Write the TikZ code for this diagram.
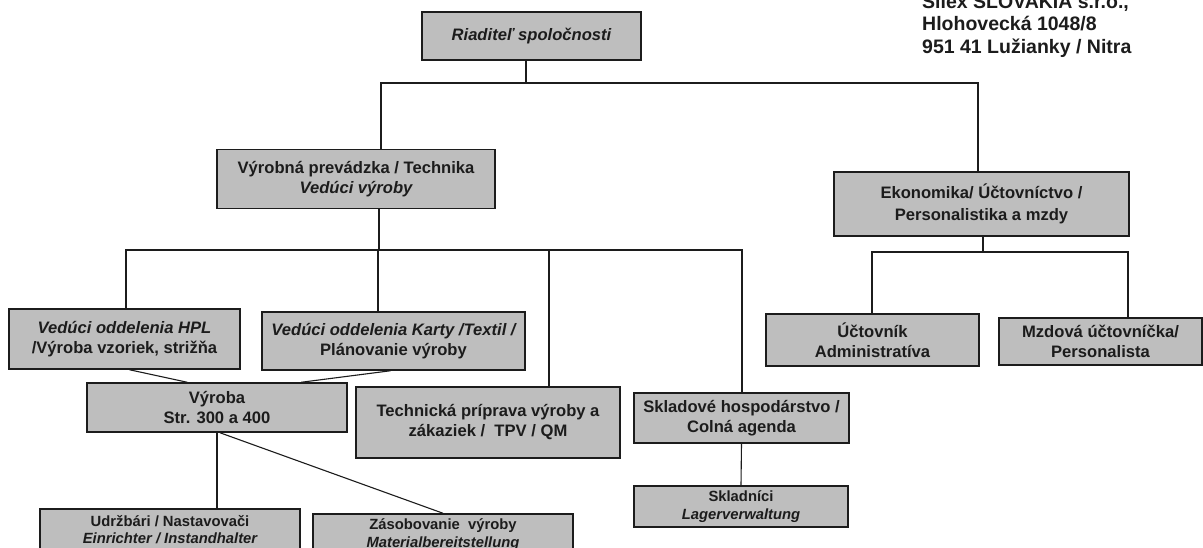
\documentclass[tikz,border=0pt]{standalone}
\usepackage{fontspec}
\setmainfont{Liberation Sans}
\usetikzlibrary{calc}
\definecolor{boxgray}{RGB}{190,190,190}
\definecolor{ink}{RGB}{28,28,28}
\begin{document}
\begin{tikzpicture}[x=1pt,y=-1pt,
  box/.style={draw=ink, line width=1.5pt, fill=boxgray, inner sep=0pt, align=center, text=ink,
    font=\bfseries\fontsize{16.6}{20}\selectfont},
  smallbox/.style={box, font=\bfseries\fontsize{14.8}{17.5}\selectfont},
  link/.style={draw=ink, line width=1.1pt},
  addr/.style={anchor=base west, inner sep=0pt, text=ink, font=\bfseries\fontsize{19.5}{22}\selectfont}]
\clip (0,0) rectangle (1203,547);
\fill[white] (0,0) rectangle (1203,547);

% boxes
\node[box, minimum width=219pt, minimum height=48pt] (rt) at (531.5,36) {\itshape Riaditeľ spoločnosti};
\node[box, minimum width=278pt, minimum height=59pt] (vp) at (356,179) {Výrobná prevádzka / Technika\\ \itshape Vedúci výroby};
\node[box, minimum width=295pt, minimum height=64pt, font=\bfseries\fontsize{16.6}{22}\selectfont] (ek) at (981.5,204) {Ekonomika/ Účtovníctvo /\\Personalistika a mzdy};
\node[box, minimum width=231pt, minimum height=60pt] (hpl) at (124.5,339) {{\itshape Vedúci oddelenia HPL}\\/Výroba vzoriek, strižňa};
\node[box, minimum width=263pt, minimum height=58pt] (kt) at (393.5,341) {{\itshape Vedúci oddelenia Karty /Textil /}\\Plánovanie výroby};
\node[box, minimum width=260pt, minimum height=49pt] (vy) at (217,407.5) {Výroba\\Str. 300 a 400};
\node[box, minimum width=264pt, minimum height=71pt] (tp) at (488,422.5) {Technická príprava výroby a\\zákaziek /\ \ TPV / QM};
\node[box, minimum width=215pt, minimum height=50pt] (sk) at (741.5,418) {Skladové hospodárstvo /\\Colná agenda};
\node[smallbox, minimum width=214pt, minimum height=41pt] (skn) at (741,506.5) {Skladníci\\ \itshape Lagerverwaltung};
\node[smallbox, minimum width=260pt, minimum height=41pt] (ud) at (170,529.5) {Udržbári / Nastavovači\\ \itshape Einrichter / Instandhalter};
\node[smallbox, minimum width=260pt, minimum height=41pt] (zs) at (443,534.5) {Zásobovanie\ \ výroby\\ \itshape Materialbereitstellung};
\node[box, minimum width=213pt, minimum height=52pt] (uc) at (872.5,340) {Účtovník\\Administratíva};
\node[box, minimum width=203pt, minimum height=47pt] (mz) at (1100.5,341.5) {Mzdová účtovníčka/\\Personalista};

% address
\node[addr] (a1) at (922,8) {Silex SLOVAKIA s.r.o.,};
\node[addr] (a2) at (922,30.5) {Hlohovecká 1048/8};
\node[addr] (a3) at (922,53) {951 41 Lužianky / Nitra};

% top bus
\coordinate (b1M) at (526,83);
\coordinate (b1L) at (381,83);
\coordinate (b1R) at (978,83);
\draw[link] (b1M |- rt.south) -- (b1M);
\draw[link] (b1L |- vp.north) -- (b1L) -- (b1R) -- (b1R |- ek.north);

% production bus
\coordinate (b2s) at (379,250);
\coordinate (b2a) at (126,250);
\coordinate (b2b) at (378,250);
\coordinate (b2c) at (549,250);
\coordinate (b2d) at (742,250);
\draw[link] (b2s |- vp.south) -- (b2s);
\draw[link] (b2a |- hpl.north) -- (b2a) -- (b2d) -- (b2d |- sk.north);
\draw[link] (b2b) -- (b2b |- kt.north);
\draw[link] (b2c) -- (b2c |- tp.north);

% economy bus
\coordinate (b3s) at (983,252);
\coordinate (b3a) at (872,252);
\coordinate (b3b) at (1128,252);
\draw[link] (b3s |- ek.south) -- (b3s);
\draw[link] (b3a |- uc.north) -- (b3a) -- (b3b) -- (b3b |- mz.north);

% slanted and lower links
\draw[link] ($(hpl.south)+(5,0)$) -- ($(vy.north west)+(101,0)$);
\draw[link] ($(kt.south)+(-3,0)$) -- ($(vy.north west)+(215,0)$);
\draw[link] (vy.south) -- (vy.south |- ud.north);
\draw[link] ($(vy.south)+(3,0)$) -- (zs.north);
\draw[link] (sk.south) -- (skn.north);
\end{tikzpicture}
\end{document}
